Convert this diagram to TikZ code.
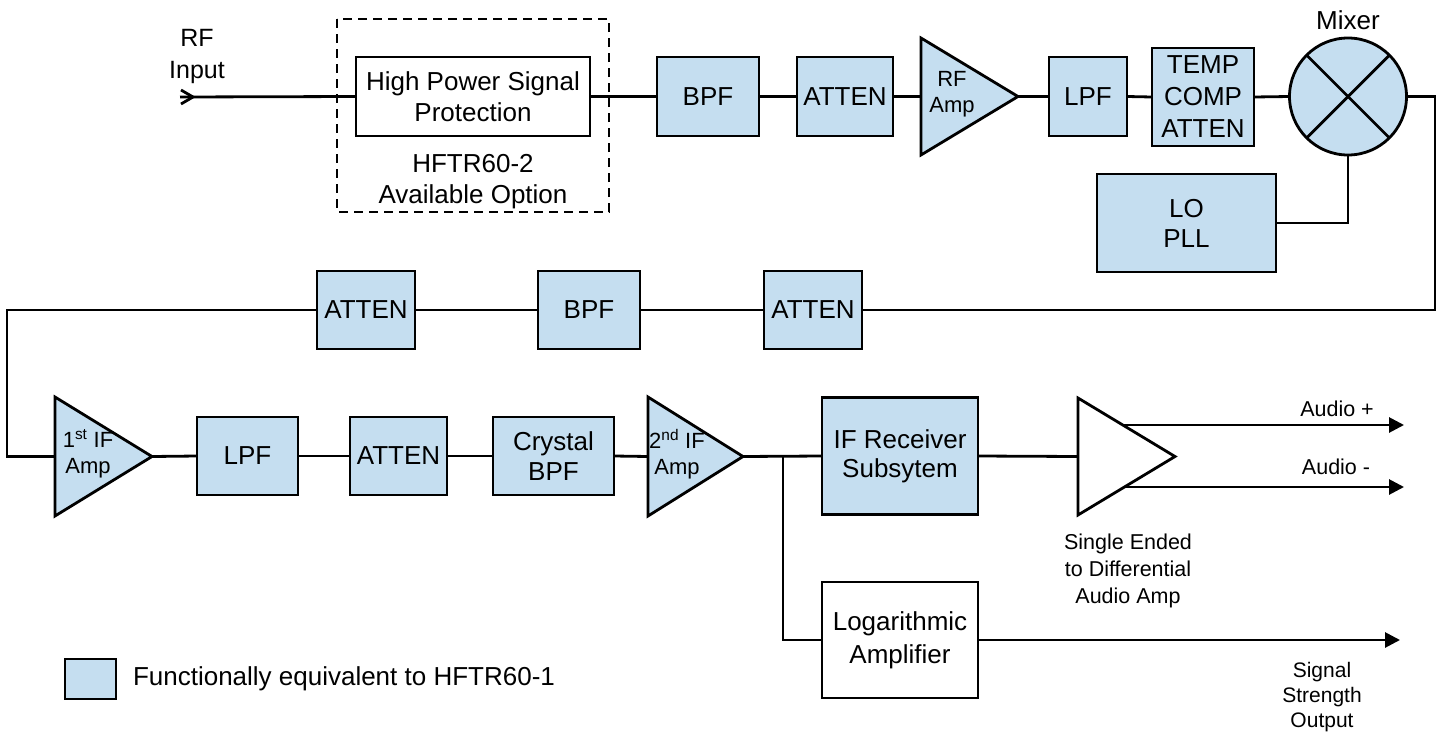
\documentclass[tikz,border=0pt]{standalone}
\usepackage{fontspec}
\setmainfont{Liberation Sans}
\usetikzlibrary{arrows.meta,calc}
\definecolor{unitblue}{RGB}{197,222,240}
\begin{document}
\begin{tikzpicture}[x=1pt,y=-1pt,line width=2.8pt,
  every node/.style={inner sep=0pt,outer sep=0pt,align=center},
  big/.style={font=\fontsize{26}{31}\selectfont},
  mid/.style={font=\fontsize{25}{32}\selectfont},
  small/.style={font=\fontsize{22}{26}\selectfont},
  note/.style={font=\fontsize{21.5}{27}\selectfont},
  unit/.style={draw,fill=unitblue,big},
  plainbox/.style={draw,fill=white,big},
  wire/.style={line width=2.8pt},
  outarrow/.style={wire,-{Triangle[length=15pt,width=15pt]}},
  ampbody/.style={draw,fill=unitblue,line join=miter},
]
\useasboundingbox (0,0) rectangle (1445,736);

% ---------- top row: RF front end ----------
\node[mid] (rflabel) at (197,56) {RF\\Input};
\coordinate (rfin) at (180,97);
\draw[wire] (rfin) ++(1,-7) -- ++(12,7) -- ++(-12,7);

\draw[line width=1.8pt,dash pattern=on 9pt off 6pt] (337,19) rectangle (609,212);
\node[plainbox,minimum width=234pt,minimum height=79pt] (hp) at (473,96.5) {High Power Signal\\Protection};
\node[big] (opt) at (473,182) {HFTR60-2\\Available Option};

\node[unit,minimum width=102pt,minimum height=79pt] (bpfa) at (708,96.5) {BPF};
\node[unit,minimum width=96pt,minimum height=79pt] (atta) at (845,96.5) {ATTEN};

% RF amplifier
\draw[ampbody] (921,38) -- (1018,96.5) -- (921,155) -- cycle;
\coordinate (rfamp-in) at (921,96.5);
\coordinate (rfamp-out) at (1018,96.5);
\node[small] (rfamptxt) at (952,94) {RF\\Amp};

\node[unit,minimum width=78pt,minimum height=79pt] (lpfa) at (1088,96.5) {LPF};
\node[unit,minimum width=102pt,minimum height=98pt,font=\fontsize{26}{32}\selectfont] (tca) at (1203,97) {TEMP\\COMP\\ATTEN};

\node[circle,draw,fill=unitblue,minimum size=117pt] (mix) at (1348,96.5) {};
\draw (mix.north west) -- (mix.south east);
\draw (mix.north east) -- (mix.south west);
\node[big] (mixtxt) at (1348,20) {Mixer};

\node[unit,minimum width=179pt,minimum height=98pt,font=\fontsize{26}{30}\selectfont] (lo) at (1186.5,223) {LO\\PLL};

\draw[wire] (rfin) -- (hp.west);
\draw[wire] (hp.east) -- (bpfa.west);
\draw[wire] (bpfa.east) -- (atta.west);
\draw[wire] (atta.east) -- (rfamp-in);
\draw[wire] (rfamp-out) -- (lpfa.west);
\draw[wire] (lpfa.east) -- (tca.west);
\draw[wire] (tca.east) -- (mix.west);
\draw[wire] (lo.east) -| (mix.south);

% ---------- middle row: IF filtering ----------
\node[unit,minimum width=98pt,minimum height=78pt] (attb1) at (366,310) {ATTEN};
\node[unit,minimum width=102pt,minimum height=78pt] (bpfb) at (589,310) {BPF};
\node[unit,minimum width=98pt,minimum height=78pt] (attb2) at (813,310) {ATTEN};
\coordinate (turnr) at (1435,310);
\coordinate (turnl) at (7,310);

\draw[wire] (mix.east) -| (turnr) -- (attb2.east);
\draw[wire] (attb2.west) -- (bpfb.east);
\draw[wire] (bpfb.west) -- (attb1.east);

% ---------- bottom row: IF chain ----------
\draw[ampbody] (55,397) -- (152,456.5) -- (55,516) -- cycle;
\coordinate (if1-in) at (55,456.5);
\coordinate (if1-out) at (152,456.5);
\node[small] (if1txt) at (88,454) {1\textsuperscript{st} IF\\Amp};

\node[unit,minimum width=101pt,minimum height=78pt] (lpfc) at (247.5,456) {LPF};
\node[unit,minimum width=97pt,minimum height=78pt] (attc) at (398.5,456) {ATTEN};
\node[unit,minimum width=121pt,minimum height=78pt,font=\fontsize{26}{30}\selectfont] (xbpf) at (553.5,456) {Crystal\\BPF};

\draw[ampbody] (648,397) -- (743,456.5) -- (648,516) -- cycle;
\coordinate (if2-in) at (648,456.5);
\coordinate (if2-out) at (743,456.5);
\node[small] (if2txt) at (677,454) {2\textsuperscript{nd} IF\\Amp};

\node[unit,minimum width=156pt,minimum height=117pt,font=\fontsize{26}{29}\selectfont] (ifr) at (900,456) {IF Receiver\\Subsytem};
\node[plainbox,minimum width=156pt,minimum height=116pt,font=\fontsize{26}{33}\selectfont] (log) at (900,640) {Logarithmic\\Amplifier};

% differential audio amplifier
\draw[draw,fill=white,line join=miter] (1078,398) -- (1175,456.5) -- (1078,515) -- cycle;
\coordinate (aud-in) at (1078,456.5);
\coordinate (audp-start) at (1123,425);
\coordinate (audp-end) at (1404,425);
\coordinate (audm-start) at (1123,487);
\coordinate (audm-end) at (1404,487);
\coordinate (sig-end) at (1400,640);
\coordinate (split) at (783,456.5);

\node[note] (audptxt) at (1337,409) {Audio +};
\node[note] (audmtxt) at (1336,467) {Audio -};
\node[note] (audtxt) at (1128,571) {Single Ended\\to Differential\\Audio Amp};
\node[note,font=\fontsize{21}{25}\selectfont] (sigtxt) at (1322,697) {Signal\\Strength\\Output};

\draw[wire] (attb1.west) -- (turnl) -- (7,456.5) -- (if1-in);
\draw[wire] (if1-out) -- (lpfc.west);
\draw[wire] (lpfc.east) -- (attc.west);
\draw[wire] (attc.east) -- (xbpf.west);
\draw[wire] (xbpf.east) -- (if2-in);
\draw[wire] (if2-out) -- (ifr.west);
\draw[wire] (split) |- (log.west);
\draw[wire] (ifr.east) -- (aud-in);
\draw[outarrow] (audp-start) -- (audp-end);
\draw[outarrow] (audm-start) -- (audm-end);
\draw[outarrow] (log.east) -- (sig-end);

% ---------- legend ----------
\node[unit,minimum width=51pt,minimum height=40pt] (legbox) at (90.5,679) {};
\node[big,anchor=west] (legtxt) at (133,679) {Functionally equivalent to HFTR60-1};
\end{tikzpicture}
\end{document}
